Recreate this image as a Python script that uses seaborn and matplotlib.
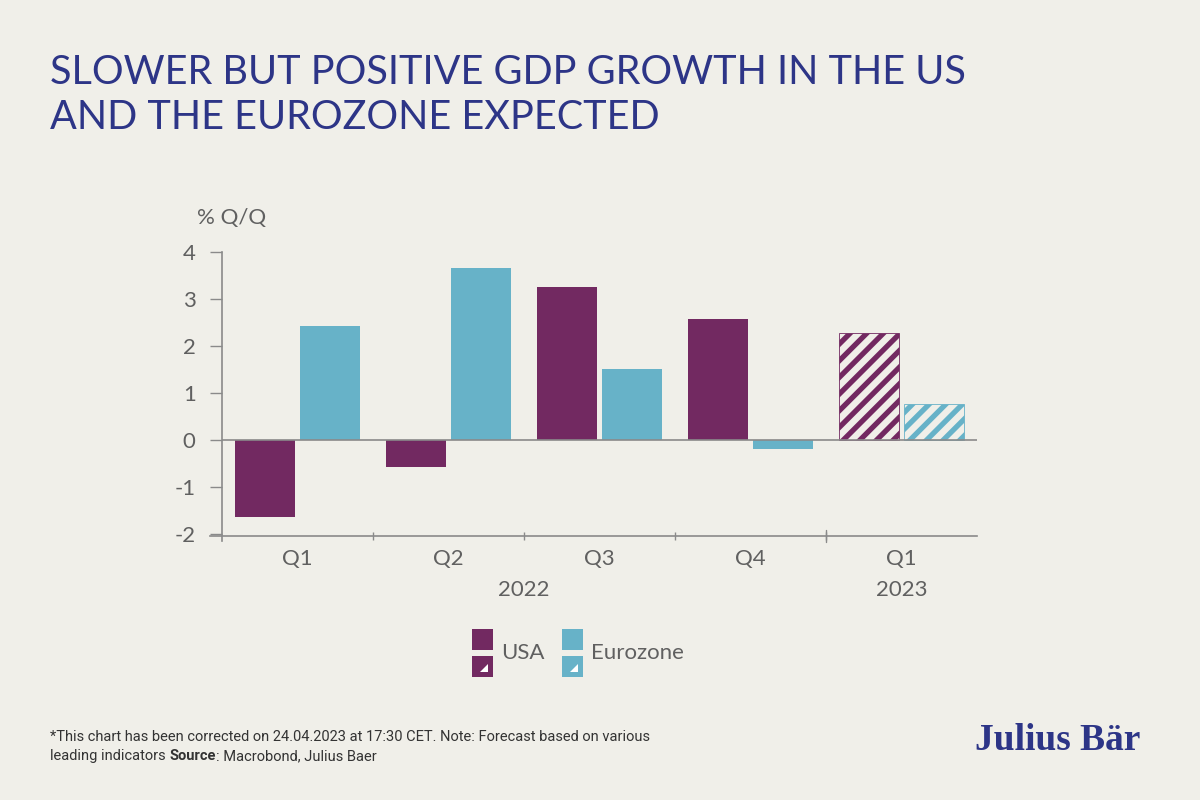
import pandas as pd
import matplotlib.pyplot as plt
import matplotlib.patches as mpatches
import seaborn as sns

# --- data ---
periods = ['2022 Q1', '2022 Q2', '2022 Q3', '2022 Q4', '2023 Q1']
quarter_labels = ['Q1', 'Q2', 'Q3', 'Q4', 'Q1']
years = ['2022', '2023']
year_pos = [1.5, 4]
usa = [-1.64, -0.57, 3.26, 2.57, 2.28]
eurozone = [2.43, 3.66, 1.51, -0.20, 0.77]
y_ticks = [-2, -1, 0, 1, 2, 3, 4]
forecast_period = '2023 Q1'

# --- style ---
BG = '#F0EFE9'
PURPLE = '#722961'
BLUE = '#67B2C8'
NAVY = '#2D3587'
GREY = '#606060'
AXIS = '#8a8a8a'

sns.set_theme(style='white')
plt.rcParams['font.family'] = ['Lato', 'DejaVu Sans']
plt.rcParams['hatch.linewidth'] = 3.8

df = pd.DataFrame({
    'period': periods * 2,
    'value': usa + eurozone,
    'region': ['USA'] * len(periods) + ['Eurozone'] * len(periods),
})

fig = plt.figure(figsize=(12, 8), dpi=100, facecolor=BG)
ax = fig.add_axes([0.185, 0.33, 0.629, 0.355], facecolor=BG)

sns.barplot(data=df, x='period', y='value', hue='region', order=periods,
            hue_order=['USA', 'Eurozone'], palette=[PURPLE, BLUE],
            saturation=1, width=0.86, gap=0.07, legend=False, ax=ax,
            linewidth=0)

# forecast bars: hatched, background fill
fi = periods.index(forecast_period)
for cont, col in zip(ax.containers, [PURPLE, BLUE]):
    bar = cont[fi]
    bar.set_facecolor(BG)
    bar.set_edgecolor(col)
    bar.set_hatch('//')
    bar.set_linewidth(0.6)

ax.axhline(0, color=AXIS, lw=1.2, zorder=3)

ax.set_xlim(-0.5, 4.5)
ax.set_ylim(-2.04, 4)
ax.set_yticks(y_ticks)
ax.set_yticklabels([str(t) for t in y_ticks])
ax.set_xticks(range(len(periods)))
ax.set_xticklabels(quarter_labels)
ax.set_xticks([0.5, 1.5, 2.5, 3.5], minor=True)
ax.set_xlabel('')
ax.set_ylabel('')

for s in ['top', 'right']:
    ax.spines[s].set_visible(False)
for s in ['left', 'bottom']:
    ax.spines[s].set_color(AXIS)
    ax.spines[s].set_linewidth(1.2)
ax.spines['left'].set_bounds(-2.15, 4)
ax.spines['bottom'].set_bounds(-0.58, 4.5)

ax.tick_params(axis='y', which='major', left=True, length=9, width=1,
               color=AXIS, labelsize=16, labelcolor=GREY, pad=10)
ax.tick_params(axis='x', which='major', bottom=False, labelsize=16,
               labelcolor=GREY, pad=3)
ax.tick_params(axis='x', which='minor', bottom=True, direction='inout',
               length=6, width=1, color=AXIS)
# year separator
ax.plot([3.5, 3.5], [-0.02, 0.02], transform=ax.get_xaxis_transform(),
        color=AXIS, lw=1, clip_on=False)

for yr, xp in zip(years, year_pos):
    ax.text(xp, -0.19, yr, transform=ax.get_xaxis_transform(), ha='center',
            va='center', fontsize=16, color=GREY)

fig.text(197 / 1200, 1 - 218 / 800, '% Q/Q', fontsize=16, color=GREY,
         va='center', ha='left')

# --- title ---
fig.text(50 / 1200, 1 - 84 / 800, 'SLOWER BUT POSITIVE GDP GROWTH IN THE US',
         fontsize=28.5, color=NAVY, va='baseline', ha='left')
fig.text(50 / 1200, 1 - 129 / 800, 'AND THE EUROZONE EXPECTED',
         fontsize=28.5, color=NAVY, va='baseline', ha='left')

# --- legend (two stacked swatches per series) ---
def swatch(x0, y0, col, hatched):
    w, h = 21 / 1200, 21 / 800
    fig.add_artist(mpatches.Rectangle((x0, y0), w, h, transform=fig.transFigure,
                                      facecolor=col, lw=0))
    if hatched:
        notch = [(x0 + w * 0.4, y0 + h * 0.22), (x0 + w * 0.78, y0 + h * 0.22),
                 (x0 + w * 0.78, y0 + h * 0.6)]
        fig.add_artist(mpatches.Polygon(notch, closed=True, transform=fig.transFigure,
                                        facecolor='white', lw=0))

for x_px, col, lab, tx in [(472, PURPLE, 'USA', 501), (562, BLUE, 'Eurozone', 591)]:
    swatch(x_px / 1200, 1 - 650 / 800, col, False)
    swatch(x_px / 1200, 1 - 677 / 800, col, True)
    fig.text(tx / 1200, 1 - 653 / 800, lab, fontsize=16, color=GREY,
             va='center', ha='left')

# --- footer ---
foot_font = ['Roboto', 'DejaVu Sans']
fig.text(50 / 1200, 1 - 737 / 800,
         '*This chart has been corrected on 24.04.2023 at 17:30 CET. '
         'Note: Forecast based on various',
         fontsize=10.5, color='#333333', va='center', ha='left', family=foot_font)
renderer = fig.canvas.get_renderer()
x_cur = 50 / 1200
for part, wt in [('leading indicators ', 'normal'), ('Source', 'bold'),
                 (': Macrobond, Julius Baer', 'normal')]:
    t = fig.text(x_cur, 1 - 756 / 800, part, fontsize=10.5, color='#333333',
                 va='center', ha='left', family=foot_font, fontweight=wt)
    bb = t.get_window_extent(renderer)
    x_cur += bb.width / fig.bbox.width

fig.text(975 / 1200, 1 - 750 / 800, 'Julius Bär', fontsize=27, color=NAVY,
         va='baseline', ha='left', family=['Liberation Serif', 'DejaVu Serif'],
         fontweight='bold')

fig.savefig('out.png', dpi=100, facecolor=BG)
